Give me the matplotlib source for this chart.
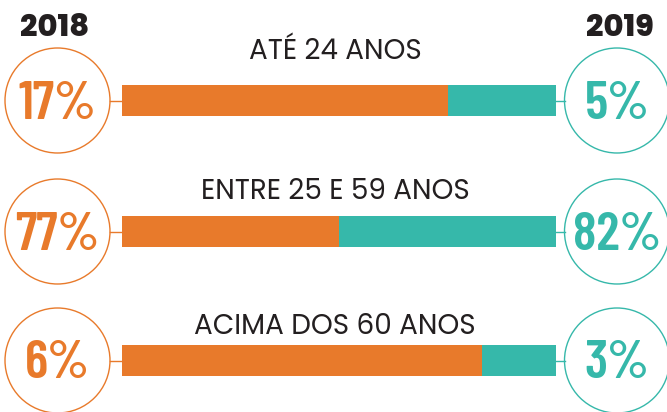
import matplotlib.pyplot as plt
from matplotlib.patches import Circle

# Age groups and shares
groups = ['ATÉ 24 ANOS', 'ENTRE 25 E 59 ANOS', 'ACIMA DOS 60 ANOS']
pct_2018 = [17, 77, 6]
pct_2019 = [5, 82, 3]
# orange share of each bar (0-1)
bar_orange = [0.75, 0.50, 0.83]
years = ['2018', '2019']

orange = '#E87A2B'
teal = '#36B8AA'
dark = '#231F20'
sans = ['Poppins', 'DejaVu Sans']

fig = plt.figure(figsize=(6.67, 4.12), dpi=100)
ax = fig.add_axes([0, 0, 1, 1])
ax.set_xlim(0, 667)
ax.set_ylim(412, 0)
ax.axis('off')

row_y = [100.5, 231.5, 360.5]
title_base = [59, 199, 334]
bar_x0, bar_w, bar_h = 122, 434, 31
left_cx, right_cx, r = 57.5, 617, 52.5

pct_font = dict(family=['Barlow Condensed', 'DejaVu Sans'], fontweight=600,
                fontsize=39, ha='center', va='baseline')
title_font = dict(family=sans, fontweight=400, fontsize=20,
                  color=dark, ha='center', va='baseline')

for i, y in enumerate(row_y):
    ow = bar_orange[i] * bar_w
    ax.barh(y, ow, left=bar_x0, height=bar_h, color=orange)
    ax.barh(y, bar_w - ow, left=bar_x0 + ow, height=bar_h, color=teal)

    # connectors
    ax.plot([left_cx + r, bar_x0], [y, y], color=orange, lw=1)
    ax.plot([bar_x0 + bar_w, right_cx - r], [y, y], color=teal, lw=1)

    ax.add_patch(Circle((left_cx, y), r, fill=False, ec=orange, lw=1))
    ax.add_patch(Circle((right_cx, y), r, fill=False, ec=teal, lw=1))

    ax.text(left_cx, y + 18, f'{pct_2018[i]}%', color=orange, **pct_font)
    ax.text(right_cx, y + 18, f'{pct_2019[i]}%', color=teal, **pct_font)

    ax.text(335, title_base[i], groups[i], **title_font)

for x, yr in zip([55, 620], years):
    ax.text(x, 36, yr, family=sans, fontsize=22,
            fontweight=800, color=dark, ha='center', va='baseline')

fig.savefig('out.png', dpi=100)
